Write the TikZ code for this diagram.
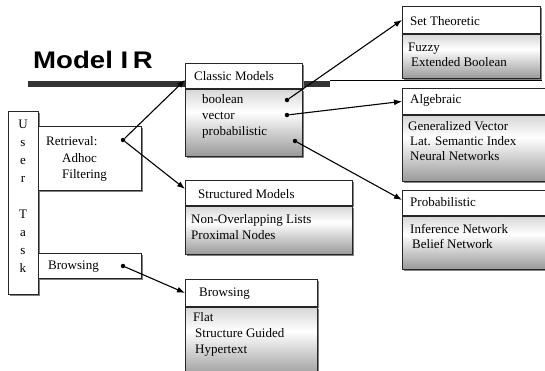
\documentclass[tikz,border=0pt]{standalone}
\usepackage{fontspec}
\usepackage{graphicx}
\setmainfont{Liberation Serif}
\newfontfamily\titlefont{Liberation Sans}
\usetikzlibrary{positioning,shadows,arrows.meta}

\pgfdeclareverticalshading{boxshade}{100bp}{color(0bp)=(black!40); color(25bp)=(black!40);
    color(58bp)=(white); color(75bp)=(black!16); color(100bp)=(black!16)}

\tikzset{
    box/.style={draw=black!85, line width=0.8pt, anchor=north west, inner sep=0pt,
        drop shadow={shadow xshift=2pt, shadow yshift=-2pt, fill=black!50, opacity=1}},
    plain/.style={box, fill=white},
    head/.style={box, fill=white},
    body/.style={box, shading=boxshade},
    txt/.style={anchor=base west, inner sep=0pt, font=\fontsize{13}{16}\selectfont},
    dot/.style={circle, fill=black, inner sep=0pt, minimum size=4.5pt},
    arr/.style={line width=1.1pt, -{Latex[length=8pt,width=6pt]}},
}

\begin{document}
\begin{tikzpicture}[x=1pt, y=-1pt]
    \useasboundingbox (0,0) rectangle (545,370);

    % title with its bar
    \node[anchor=base west, inner sep=0pt] (ttl) at (33,68)
        {\scalebox{1.15}[1]{\titlefont\bfseries\fontsize{24}{24}\selectfont Model I\kern4pt R}};
    \fill[black!80] (28,81) rectangle (330,87);
    \draw[line width=0.9pt] (330,80.5) -- (542,80.5);

    % user task column
    \node[plain, minimum width=30pt, minimum height=183pt] (user) at (8,111) {};
    \foreach \l/\yy [count=\i] in {U/128, s/146, e/164, r/182, T/218, a/236, s/254, k/272}
        \node[txt, anchor=base] (usr\i) at (23,\yy) {\l};

    % retrieval and browsing tasks
    \node[plain, minimum width=103pt, minimum height=64pt] (retr) at (38,126) {};
    \node[txt] (retrA) at (46,145) {Retrieval:};
    \node[txt] (retrB) at (62,162) {Adhoc};
    \node[txt] (retrC) at (62,178) {Filtering};
    \node[plain, minimum width=103pt, minimum height=25pt] (brws) at (38,253) {};
    \node[txt] (brwsA) at (48,269) {Browsing};

    % classic models
    \node[head, minimum width=117pt, minimum height=25pt] (clsH) at (185,63) {};
    \node[body, minimum width=117pt, minimum height=67pt] (clsB) at (clsH.south west) {};
    \node[txt] (clsT) at (194,80) {Classic Models};
    \node[txt] (cls1) at (202,103.5) {boolean};
    \node[txt] (cls2) at (202,119.5) {vector};
    \node[txt] (cls3) at (202,135.5) {probabilistic};

    % structured models
    \node[head, minimum width=167pt, minimum height=25pt] (strH) at (185,180) {};
    \node[body, minimum width=167pt, minimum height=48pt] (strB) at (strH.south west) {};
    \node[txt] (strT) at (198,198) {Structured Models};
    \node[txt] (str1) at (191,223) {Non-Overlapping Lists};
    \node[txt] (str2) at (191,239) {Proximal Nodes};

    % browsing models
    \node[head, minimum width=132pt, minimum height=27pt] (brwH) at (185,279) {};
    \node[body, minimum width=132pt, minimum height=70pt] (brwB) at (brwH.south west) {};
    \node[txt] (brwT) at (199,296) {Browsing};
    \node[txt] (brw1) at (193,321) {Flat};
    \node[txt] (brw2) at (195,337) {Structure Guided};
    \node[txt] (brw3) at (195,353) {Hypertext};

    % set theoretic
    \node[head, minimum width=138pt, minimum height=27pt] (setH) at (402,6) {};
    \node[body, minimum width=138pt, minimum height=44pt] (setB) at (setH.south west) {};
    \node[txt] (setT) at (410,25) {Set Theoretic};
    \node[txt] (set1) at (408,51) {Fuzzy};
    \node[txt] (set2) at (411,66) {Extended Boolean};

    % algebraic
    \node[head, minimum width=150pt, minimum height=26pt] (algH) at (402,88) {};
    \node[body, minimum width=150pt, minimum height=66pt] (algB) at (algH.south west) {};
    \node[txt] (algT) at (410,103) {Algebraic};
    \node[txt] (alg1) at (408,130) {Generalized Vector};
    \node[txt] (alg2) at (410,145) {Lat. Semantic Index};
    \node[txt] (alg3) at (410,160) {Neural Networks};

    % probabilistic
    \node[head, minimum width=150pt, minimum height=25pt] (prbH) at (402,190) {};
    \node[body, minimum width=150pt, minimum height=53pt] (prbB) at (prbH.south west) {};
    \node[txt] (prbT) at (410,206) {Probabilistic};
    \node[txt] (prb1) at (410,233) {Inference Network};
    \node[txt] (prb2) at (412,248) {Belief Network};

    % dots
    \node[dot] (rdot) at (123,140) {};
    \node[dot] (bdot) at (123,266) {};
    \node[dot] (d1) at (287,100) {};
    \node[dot] (d2) at (287,115) {};
    \node[dot] (d3) at (295,141) {};

    % arrows
    \draw[arr] (rdot) -- ([yshift=-4pt]clsH.west);
    \draw[arr] (rdot) -- ([yshift=4pt]strH.west);
    \draw[arr] (bdot) -- (brwH.west);
    \draw[arr] (d1) -- (setH.west);
    \draw[arr] (d2) -- (algH.west);
    \draw[arr] (d3) -- ([yshift=3pt]prbH.west);
\end{tikzpicture}
\end{document}
